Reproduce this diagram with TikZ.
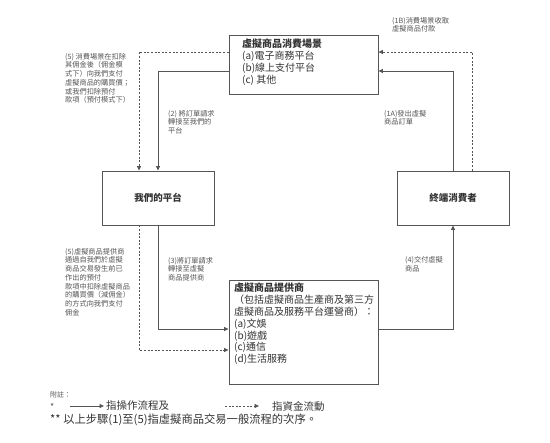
\documentclass[tikz,border=0pt]{standalone}
\usepackage{fontspec}
\setmainfont{Noto Sans CJK TC}
\usetikzlibrary{arrows.meta}
\definecolor{ln}{HTML}{555555}
\definecolor{tx}{HTML}{333333}
\definecolor{lb}{HTML}{555555}
\begin{document}
\begin{tikzpicture}[x=1pt,y=-1pt,
  box/.style={draw=ln, line width=0.9pt, fill=white, inner sep=0pt},
  flow/.style={draw=ln, line width=0.8pt, -{Triangle[length=4.5pt,width=4pt]}},
  money/.style={draw=ln, line width=0.8pt, dash pattern=on 2pt off 1.6pt, -{Triangle[length=4.5pt,width=4pt]}},
  lbl/.style={anchor=north west, inner sep=0pt, align=left, text=lb, font=\fontsize{7.2}{8.7}\selectfont},
  boxtxt/.style={anchor=north west, inner sep=0pt, align=left, text=tx, font=\fontsize{10}{11.8}\selectfont}]
\useasboundingbox (0,0) rectangle (550,443);

% boxes
\node[box, minimum width=149pt, minimum height=59pt] (scene) at (303.5,64.5) {};
\node[boxtxt] (scenetxt) at (242,39) {\textbf{虛擬商品消費場景}\\(a)電子商務平台\\(b)線上支付平台\\(c) 其他};
\node[box, minimum width=112pt, minimum height=54pt, text=tx, font=\fontsize{9.5}{11}\selectfont\bfseries] (plat) at (158,198) {我們的平台};
\node[box, minimum width=112pt, minimum height=54pt, text=tx, font=\fontsize{9.5}{11}\selectfont\bfseries] (cons) at (453,198) {終端消費者};
\node[box, minimum width=149pt, minimum height=104pt] (supp) at (303.5,332) {};
\node[boxtxt] (supptxt) at (234,283) {\textbf{虛擬商品提供商}\\（包括虛擬商品生產商及第三方\\虛擬商品及服務平台運營商）：\\(a)文娛\\(b)遊戲\\(c)通信\\(d)生活服務};

% connectors
\draw[flow] ([yshift=-6.5pt]scene.west) -| (plat.north);
\draw[money] ([yshift=12.5pt]scene.west) -| ([xshift=-19pt]plat.north);
\draw[flow] (cons.north) |- ([yshift=-6.5pt]scene.east);
\draw[money] ([xshift=19pt]cons.north) |- ([yshift=12.5pt]scene.east);
\draw[flow] (plat.south) |- ([yshift=3pt]supp.west);
\draw[money] ([xshift=-19pt]plat.south) |- ([yshift=-18pt]supp.west);
\draw[flow] ([yshift=3pt]supp.east) -| (cons.south);

% labels
\node[lbl] (l5a) at (65,53) {(5) 消費場景在扣除\\其佣金後（佣金模\\式下）向我們支付\\虛擬商品的購買價；\\或我們扣除預付\\款項（預付模式下）};
\node[lbl] (l2) at (168,110) {(2) 將訂單請求\\轉接至我們的\\平台};
\node[lbl] (l1b) at (392,17) {(1B)消費場景收取\\虛擬商品付款};
\node[lbl] (l1a) at (384,110) {(1A)發出虛擬\\商品訂單};
\node[lbl] (l5b) at (65,248) {(5)虛擬商品提供商\\通過自我們於虛擬\\商品交易發生前已\\作出的預付\\款項中扣除虛擬商品\\的購買價（減佣金）\\的方式向我們支付\\佣金};
\node[lbl] (l3) at (168,257) {(3)將訂單請求\\轉接至虛擬\\商品提供商};
\node[lbl] (l4) at (405,256) {(4)交付虛擬\\商品};

% legend
\node[anchor=west, inner sep=0pt, text=lb, font=\fontsize{7}{8}\selectfont\itshape] (note) at (50,395) {附註：};
\node[anchor=west, inner sep=0pt, text=lb, font=\fontsize{9}{9}\selectfont] (star) at (50,407) {*};
\coordinate (ls1) at (70,406);
\coordinate (le1) at (104,406);
\draw[flow] (ls1) -- (le1);
\node[anchor=west, inner sep=0pt, text=tx, font=\fontsize{10.5}{12}\selectfont] (t1) at (106,406) {指操作流程及};
\coordinate (ls2) at (225,406);
\coordinate (le2) at (259,406);
\draw[money] (ls2) -- (le2);
\node[anchor=west, inner sep=0pt, text=tx, font=\fontsize{10.5}{12}\selectfont] (t2) at (272,406) {指資金流動};
\node[anchor=west, inner sep=0pt, text=tx, font=\fontsize{11.3}{13}\selectfont] (t3) at (50,420) {** 以上步驟(1)至(5)指虛擬商品交易一般流程的次序。};
\end{tikzpicture}
\end{document}
